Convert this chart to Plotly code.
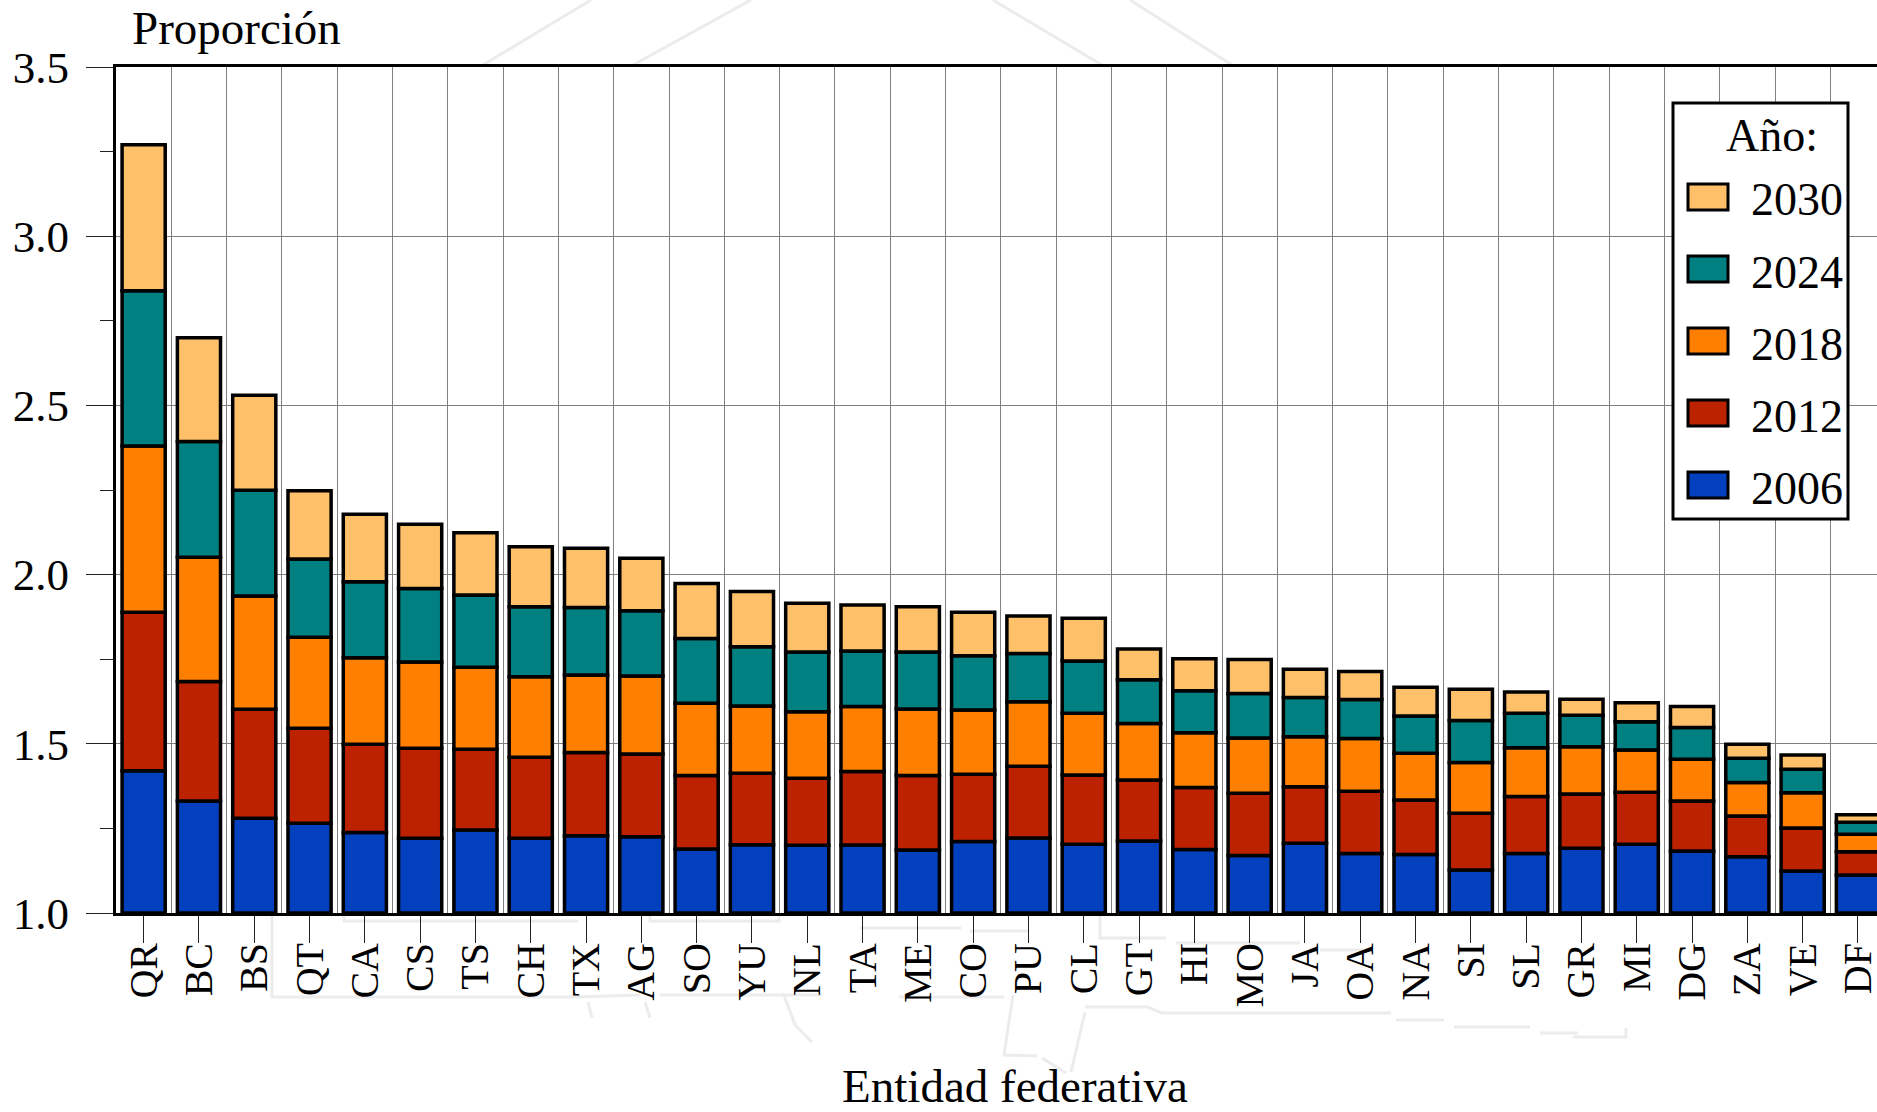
import numpy as np
import plotly.graph_objects as go

states = ["QR","BC","BS","QT","CA","CS","TS","CH","TX","AG","SO","YU","NL","TA","ME","CO",
          "PU","CL","GT","HI","MO","JA","OA","NA","SI","SL","GR","MI","DG","ZA","VE","DF"]

# Stacked tops (cumulative proportion, bars start at 1.0)
top_2006 = [1.420,1.331,1.280,1.265,1.238,1.221,1.245,1.221,1.228,1.225,1.189,1.202,1.200,1.201,1.186,1.211,
            1.222,1.203,1.213,1.188,1.170,1.206,1.176,1.173,1.127,1.176,1.191,1.203,1.183,1.166,1.124,1.112]
top_2012 = [1.889,1.684,1.602,1.546,1.499,1.487,1.484,1.460,1.474,1.470,1.406,1.413,1.398,1.418,1.406,1.410,
            1.434,1.408,1.393,1.371,1.354,1.373,1.360,1.334,1.295,1.344,1.352,1.357,1.331,1.287,1.251,1.181]
top_2018 = [2.380,2.051,1.937,1.815,1.754,1.742,1.726,1.698,1.703,1.700,1.620,1.612,1.595,1.610,1.603,1.600,
            1.624,1.590,1.560,1.533,1.517,1.521,1.516,1.472,1.445,1.488,1.491,1.482,1.454,1.386,1.355,1.233]
top_2024 = [2.839,2.393,2.249,2.046,1.979,1.959,1.940,1.905,1.903,1.893,1.811,1.787,1.771,1.774,1.771,1.760,
            1.767,1.745,1.689,1.657,1.649,1.637,1.631,1.582,1.569,1.590,1.584,1.565,1.548,1.457,1.425,1.268]
top_2030 = [3.270,2.700,2.530,2.248,2.178,2.149,2.124,2.082,2.078,2.048,1.974,1.950,1.915,1.910,1.905,1.889,
            1.878,1.871,1.780,1.751,1.749,1.720,1.714,1.667,1.661,1.653,1.632,1.621,1.610,1.499,1.467,1.290]
years = ["2006","2012","2018","2024","2030"]
colors = ["#0340BE","#BC2200","#FF8000","#008080","#FFC06A"]
tops = [top_2006, top_2012, top_2018, top_2024, top_2030]

W, H = 1914, 1112
L, T, R_PX, B_PX = 116, 67, 1914, 913
FONT = "Liberation Serif"
X = lambda px: (px - L) / (R_PX - L)
Y = lambda py: (B_PX - py) / (B_PX - T)

# Faint background map, page pixels (decoration outside the plot area)
watermark = [
    [(591,0),(483,65)], [(751,0),(633,65)], [(993,0),(1102,65)], [(1130,0),(1232,65)],
    [(272,915),(272,997),(576,997)], [(344,915),(344,921),(578,921)], [(650,915),(650,921),(779,921),(779,915)],
    [(576,997),(640,995)], [(660,995),(822,995)], [(899,997),(1004,997)],
    [(860,928),(961,928)], [(970,931),(1028,931)],
    [(1100,915),(1100,938),(1166,938)], [(1176,943),(1300,943)], [(1320,950),(1363,950)],
    [(1013,995),(1004,1055),(1037,1056)], [(1042,1058),(1066,1073)], [(1085,1012),(1071,1072)],
    [(1085,1007),(1147,1007),(1162,1013),(1391,1013)], [(1396,1020),(1444,1020)], [(1454,1027),(1530,1027)],
    [(1540,1033),(1578,1033)], [(1573,1037),(1626,1037),(1626,1028)],
    [(784,995),(795,1025),(812,1042)], [(588,1002),(592,1018)], [(645,1002),(650,1018)],
]

fig = go.Figure()
idx = np.arange(len(states))
bottom = np.ones(len(states))
for year, color, top in zip(years, colors, tops):
    top = np.array(top)
    fig.add_trace(go.Bar(x=idx, y=top - bottom, base=bottom, name=year, width=0.78,
                         marker=dict(color=color, line=dict(color="black", width=3.5))))
    bottom = top

shapes = []
for seg in watermark:
    path = "M" + " L".join(f"{X(x):.5f},{Y(y):.5f}" for x, y in seg)
    shapes.append(dict(type="path", path=path, xref="paper", yref="paper", layer="below",
                       line=dict(color="#ECECEC", width=3)))
shapes.append(dict(type="rect", xref="paper", yref="paper", x0=X(1673), x1=X(1848), y0=Y(519), y1=Y(103),
                   fillcolor="white", line=dict(color="black", width=3), layer="above"))
annotations = [
    dict(text="Proporción", x=X(130), y=Y(28), xref="paper", yref="paper", xanchor="left", yanchor="middle",
         showarrow=False, font=dict(family=FONT, size=47, color="black")),
    dict(text="Año:", x=X(1772), y=Y(135), xref="paper", yref="paper", xanchor="center", yanchor="middle",
         showarrow=False, font=dict(family=FONT, size=46, color="black")),
]
row_y = [197, 269, 341, 413, 485]
for yc, year, color in zip(row_y, years[::-1], colors[::-1]):
    shapes.append(dict(type="rect", xref="paper", yref="paper", x0=X(1688), x1=X(1728), y0=Y(yc + 13), y1=Y(yc - 13),
                       fillcolor=color, line=dict(color="black", width=3), layer="above"))
    annotations.append(dict(text=year, x=X(1749), y=Y(yc + 3), xref="paper", yref="paper", xanchor="left", yanchor="middle",
                            showarrow=False, font=dict(family=FONT, size=46, color="black")))

fig.update_layout(
    width=W, height=H, margin=dict(l=L, r=W - R_PX, t=T, b=H - B_PX, autoexpand=False),
    barmode="overlay", showlegend=False, paper_bgcolor="white", plot_bgcolor="white",
    font=dict(family=FONT, color="black"), shapes=shapes, annotations=annotations,
    xaxis=dict(range=[-0.5, (R_PX - L) / 55.3 - 0.5], tickmode="array", tickvals=idx, ticktext=states,
               tickangle=-90, tickfont=dict(family=FONT, size=40, color="black"),
               ticks="outside", ticklen=27, tickwidth=1, tickcolor="#222", ticklabelstandoff=-16,
               showgrid=False, zeroline=False, automargin=True,
               showline=True, linecolor="black", linewidth=3, mirror=True,
               title=dict(text="Entidad federativa", font=dict(family=FONT, size=47, color="black"), standoff=76),
               minor=dict(tickvals=idx[:-1] + 0.5, showgrid=True, gridcolor="#808080", gridwidth=1, ticks="")),
    yaxis=dict(range=[1, 3.5], dtick=0.5, tick0=1, tickformat=".1f",
               tickfont=dict(family=FONT, size=45, color="black"),
               ticks="outside", ticklen=27, tickwidth=1, tickcolor="#222", ticklabelstandoff=8,
               showgrid=True, gridcolor="#808080", gridwidth=1, zeroline=False, automargin=False,
               showline=True, linecolor="black", linewidth=3, mirror=False,
               minor=dict(dtick=0.25, ticks="outside", ticklen=13, tickwidth=1, tickcolor="#222", showgrid=False)),
)
fig.write_html("out.html", config={"displayModeBar": False},
               post_script="document.body.style.margin='0';document.body.style.overflow='hidden';document.documentElement.style.overflow='hidden';")
